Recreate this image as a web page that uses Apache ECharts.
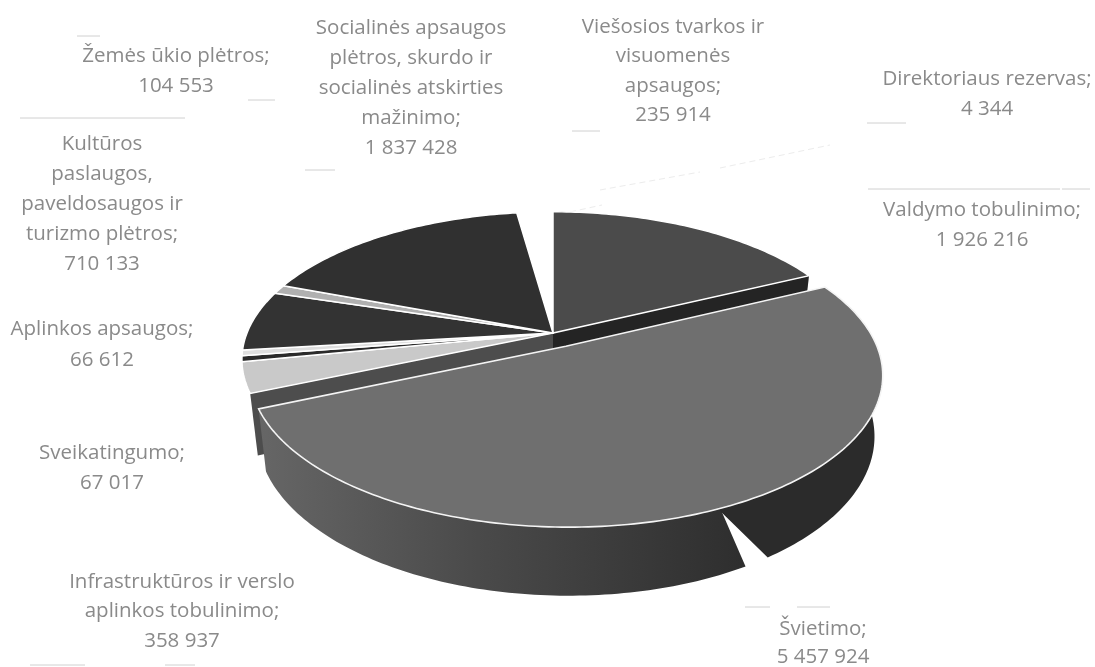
<!DOCTYPE html>
<html><head><meta charset="utf-8">
<style>html,body{margin:0;padding:0;background:#fff}#c{width:1095px;height:667px}</style>
<script src="https://cdn.jsdelivr.net/npm/echarts@6/dist/echarts.min.js"></script>
</head><body><div id="c"></div>
<script>
const labelLines = [
  ['Valdymo tobulinimo;'],
  ['Švietimo;'],
  ['Infrastruktūros ir verslo','aplinkos tobulinimo;'],
  ['Sveikatingumo;'],
  ['Aplinkos apsaugos;'],
  ['Kultūros','paslaugos,','paveldosaugos ir','turizmo plėtros;'],
  ['Žemės ūkio plėtros;'],
  ['Socialinės apsaugos','plėtros, skurdo ir','socialinės atskirties','mažinimo;'],
  ['Viešosios tvarkos ir','visuomenės','apsaugos;'],
  ['Direktoriaus rezervas;']
];
const values = [1926216,5457924,358937,67017,66612,710133,104553,1837428,235914,4344];
const topColors = ['#4b4b4b','#6f6f6f','#c9c9c9','#2a2a2a','#dedede','#333333','#b0b0b0','#303030','#ffffff','#ffffff'];
const labelAnchors = [[982,210],[823,629],[182,582],[112,453],[102,329],[102,144],[176,56],[411,28],[673,27],[987,79]];
const lineSteps = [30,28,29.5,30,31,30,30,30,29.5,30];
const faintLines = [[867,123,906,123],[868,189,1060,189],[1062,189,1090,189],[572,131,600,131],[20,118,185,118],[305,170,335,170],
  [77,36,100,36],[248,100,275,100],[745,607,770,607],[797,607,830,607],[30,665,85,665],[165,665,195,665]];
const faintDiagonals = [[570,212,602,205],[600,190,700,172],[720,168,830,145]];
const explodedIndex = 1;

const CX=553, CY=333, R=306, KR=143, P=0.18, EXPLODE=0.1, WALL=59, SHRINK=0.975;
const total = values.reduce((a,b)=>a+b,0);
const starts = []; { let s=0; values.forEach(v=>{starts.push(s); s+=v/total*360;}); }
const span = i => values[i]/total*360;
function proj(deg, r, off, low){
  const t=deg*Math.PI/180, u=r*Math.sin(t)+off[0], v=r*Math.cos(t)+off[1], w=1+P*v;
  const s=low?SHRINK:1;
  return [CX+s*R*u/w, CY-s*KR*v/w+(low?WALL/w:0)];
}
function offsetOf(i){
  if(i!==explodedIndex) return [0,0];
  const m=(starts[i]+span(i)/2)*Math.PI/180;
  return [EXPLODE*Math.sin(m),EXPLODE*Math.cos(m)];
}
function arc(a,b,off,low){
  const n=Math.max(2,Math.ceil(Math.abs(b-a)));const pts=[];
  for(let k=0;k<=n;k++)pts.push(proj(a+(b-a)*k/n,1,off,low));
  return pts;
}
function topFace(i){
  const off=offsetOf(i);
  return [proj(0,0,off,false)].concat(arc(starts[i],starts[i]+span(i),off,false));
}
function radialWall(deg,off){
  return [proj(0,0,off,false),proj(deg,1,off,false),proj(deg,1,off,true),proj(0,0,off,true)];
}
function poly(points,style){return {type:'polygon',shape:{points},style};}
const GAP_TOP=156, GAP_LEFT=150.5, GAP_RIGHT=146;

function renderBack(params){
  const i=params.dataIndex;
  if(i===explodedIndex) return {type:'group',children:[]};
  const kids=[];
  if(i===0) kids.push(poly(radialWall(starts[0]+span(0),[0,0]),{fill:'#242424'}));
  if(i===2) kids.push(poly(radialWall(starts[2],[0,0]),{fill:'#4d4d4d'}));
  const white=topColors[i]==='#ffffff';
  kids.push(poly(topFace(i),{fill:topColors[i],stroke:'#fff',lineWidth:white?0:1.5}));
  return {type:'group',children:kids};
}
function renderExploded(params){
  const i=params.dataIndex;
  if(i!==explodedIndex) return {type:'group',children:[]};
  const off=offsetOf(i), a=starts[i], b=a+span(i);
  const left=arc(GAP_TOP,b,off,false).concat(arc(GAP_LEFT,b,off,true).reverse());
  const right=arc(a,GAP_TOP+0.4,off,false).concat(arc(a,GAP_RIGHT,off,true).reverse());
  return {type:'group',children:[
    poly(left,{fill:{type:'linear',x:0,y:0,x2:1,y2:0,colorStops:[{offset:0,color:'#666666'},{offset:0.45,color:'#4a4a4a'},{offset:1,color:'#2e2e2e'}]}}),
    poly(right,{fill:'#2b2b2b'}),
    poly(topFace(i),{fill:topColors[i],stroke:'#f4f4f4',lineWidth:1.6})
  ]};
}
function fmt(v){return String(v).replace(/\B(?=(\d{3})+$)/g,' ');}
function renderLabel(params){
  const i=params.dataIndex, lines=labelLines[i].concat(fmt(values[i]));
  return {type:'group',children:lines.map((t,k)=>({type:'text',style:{
    text:t,x:labelAnchors[i][0],y:labelAnchors[i][1]+k*lineSteps[i],align:'center',verticalAlign:'middle',
    fill:'#8a8a8a',font:'20.5px "Open Sans"'}}))};
}
const rows=values.map(v=>[v]);
const chart=echarts.init(document.getElementById('c'),null,{renderer:'canvas'});
chart.setOption({
  animation:false,backgroundColor:'#fff',
  graphic:{elements:
    faintLines.map(l=>({type:'line',silent:true,shape:{x1:l[0],y1:l[1],x2:l[2],y2:l[3]},style:{stroke:'#d0d0d0',lineWidth:1}}))
    .concat(faintDiagonals.map(l=>({type:'line',silent:true,shape:{x1:l[0],y1:l[1],x2:l[2],y2:l[3]},style:{stroke:'#ececec',lineWidth:1,lineDash:[6,4]}})))
  },
  series:[
    {type:'custom',coordinateSystem:'none',z:1,data:rows,renderItem:renderBack,silent:true},
    {type:'custom',coordinateSystem:'none',z:2,data:rows,renderItem:renderExploded,silent:true},
    {type:'custom',coordinateSystem:'none',z:3,data:rows,renderItem:renderLabel,silent:true}
  ]
});
</script></body></html>
